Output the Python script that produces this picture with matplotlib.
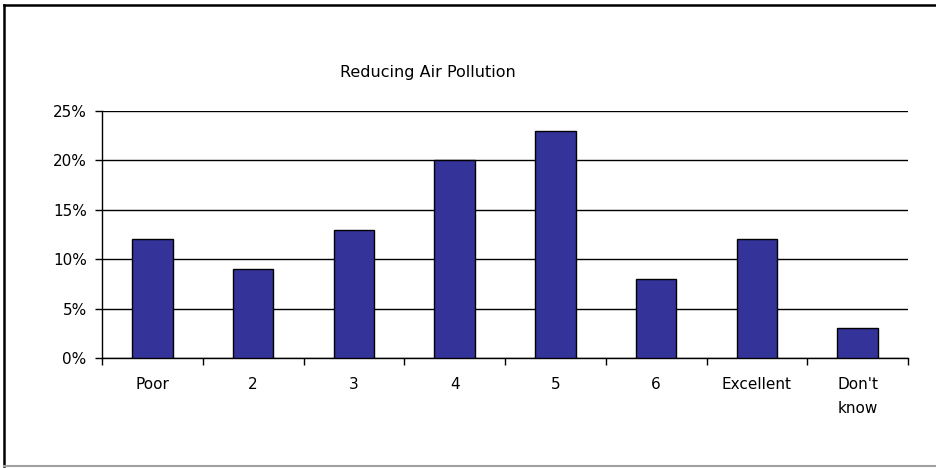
import numpy as np
import matplotlib
matplotlib.use('Agg')
import matplotlib.pyplot as plt
from matplotlib.lines import Line2D
from matplotlib.ticker import FuncFormatter, FixedLocator, NullFormatter

plt.rcParams['font.family'] = ['DejaVu Sans']
plt.rcParams['font.size'] = 11

categories = ['Poor', '2', '3', '4', '5', '6', 'Excellent', "Don't\nknow"]
shares = [12, 9, 13, 20, 23, 8, 12, 3]
title = 'Reducing Air Pollution'

fig = plt.figure(figsize=(9.36, 4.68), dpi=100)
ax = fig.add_axes([102 / 936, 1 - 358 / 468, 806 / 936, 247 / 468])

x = np.arange(len(categories))
ax.bar(x, shares, width=0.4, color='#333399', edgecolor='black', linewidth=1, zorder=3)

ax.set_xlim(-0.5, len(categories) - 0.5)
ax.set_ylim(0, 25)
ax.set_yticks(np.arange(0, 26, 5))
ax.yaxis.set_major_formatter(FuncFormatter(lambda v, p: f'{v:.0f}%'))
ax.grid(axis='y', color='black', linewidth=1, zorder=0)

# category labels sit between the boundary ticks
ax.xaxis.set_major_locator(FixedLocator(np.arange(-0.5, len(categories), 1)))
ax.xaxis.set_major_formatter(NullFormatter())
ax.xaxis.set_minor_locator(FixedLocator(x))
ax.set_xticklabels(categories, minor=True, va='top', linespacing=1.75)
ax.tick_params(axis='x', which='minor', length=0, pad=14)
ax.tick_params(axis='x', which='major', length=5, width=1, direction='out')
ax.tick_params(axis='y', length=5, width=1, direction='out', pad=6)

for s in ['top', 'right']:
    ax.spines[s].set_visible(False)
for s in ['left', 'bottom']:
    ax.spines[s].set_linewidth(1)

fig.text(428 / 936, 1 - 73 / 468, title, ha='center', va='center', fontsize=11.5)

# chart border: dark on top/left, grey along the bottom, cut off on the right
W, H = 936, 468
fig.add_artist(Line2D([4 / W, 1], [1 - 5 / H, 1 - 5 / H], color='black', lw=1.8, transform=fig.transFigure))
fig.add_artist(Line2D([4 / W, 4 / W], [1 - 5 / H, 2 / H], color='black', lw=1.8, transform=fig.transFigure))
fig.add_artist(Line2D([4 / W, 1], [2 / H, 2 / H], color='#a0a0a0', lw=1.5, transform=fig.transFigure))

fig.savefig('out.png', dpi=100)
